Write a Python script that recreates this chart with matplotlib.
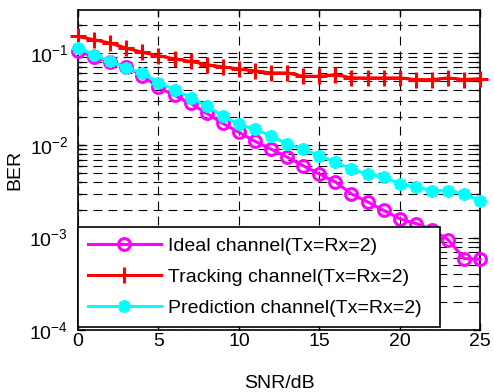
import math
import matplotlib
matplotlib.use("Agg")
import matplotlib.pyplot as plt
from matplotlib.ticker import FixedLocator, FuncFormatter, LogLocator, NullFormatter

plt.rcParams['font.family'] = ['Liberation Sans', 'DejaVu Sans']
plt.rcParams['mathtext.fontset'] = 'custom'
plt.rcParams['mathtext.rm'] = 'Liberation Sans'

snr = list(range(0, 26))
ideal = [0.105, 0.0906, 0.080, 0.0698, 0.0566, 0.0421, 0.0345, 0.0283, 0.0221, 0.0172,
         0.0138, 0.0110, 0.00906, 0.00743, 0.00599, 0.00488, 0.00400, 0.00297, 0.00244,
         0.00197, 0.00160, 0.00142, 0.00122, 0.00095, 0.000594, 0.000580]
tracking = [0.150, 0.138, 0.127, 0.112, 0.101, 0.093, 0.0856, 0.0806, 0.0743, 0.0702,
            0.0668, 0.0636, 0.0605, 0.0605, 0.0556, 0.0556, 0.058, 0.0534, 0.0534, 0.0534,
            0.0534, 0.0512, 0.0512, 0.0534, 0.0512, 0.0525]
prediction = [0.112, 0.0952, 0.0806, 0.0685, 0.0605, 0.0472, 0.040, 0.0326, 0.0265, 0.0207,
              0.0168, 0.01486, 0.01259, 0.01026, 0.00906, 0.00767, 0.00656, 0.00552, 0.00488,
              0.00453, 0.00381, 0.00353, 0.00323, 0.00323, 0.00297, 0.00252]
labels = ['Ideal channel(Tx=Rx=2)', 'Tracking channel(Tx=Rx=2)', 'Prediction channel(Tx=Rx=2)']
xticks = [0, 5, 10, 15, 20, 25]

fig = plt.figure(figsize=(4.94, 3.92), dpi=100)
ax = fig.add_axes([0.158, 0.158, 0.814, 0.8165])

ax.semilogy(snr, ideal, color='#FF00FF', lw=2.2, marker='o', ms=8.5, mfc='none', mew=2.2,
            label=labels[0], clip_on=False, zorder=5)
ax.semilogy(snr, tracking, color='#FF0000', lw=2.2, marker='+', ms=11, mew=2.2,
            label=labels[1], clip_on=False, zorder=5)
ax.semilogy(snr, prediction, color='#00FFFF', lw=2.2, marker=(8, 2, 0), ms=9, mew=2.5,
            label=labels[2], clip_on=False, zorder=5)

ax.set_xlim(0, 25)
ax.set_ylim(1e-4, 0.29)
ax.xaxis.set_major_locator(FixedLocator(xticks))
ax.yaxis.set_major_locator(LogLocator(base=10, numticks=10))
ax.yaxis.set_minor_locator(LogLocator(base=10, subs=range(2, 10), numticks=20))
ax.yaxis.set_minor_formatter(NullFormatter())
ax.yaxis.set_major_formatter(FuncFormatter(lambda v, p: r'$\mathregular{10^{%d}}$' % round(math.log10(v))))

dash = (0, (8, 5.5))
ax.grid(True, which='major', axis='both', color='black', linestyle=dash, linewidth=0.8)
ax.grid(True, which='minor', axis='y', color='black', linestyle=dash, linewidth=0.8)
ax.tick_params(which='both', direction='in', top=True, right=True, labelsize=14, width=1)
ax.tick_params(which='major', length=5)
ax.tick_params(which='minor', length=3)
ax.tick_params(axis='x', pad=2)
ax.tick_params(axis='y', pad=7)
for s in ax.spines.values():
    s.set_linewidth(1.2)
    s.set_zorder(4)

ax.set_xlabel('SNR/dB', fontsize=14, labelpad=18)
ax.set_ylabel('BER', fontsize=14, labelpad=4)

leg = ax.legend(loc='lower left', bbox_to_anchor=(0.0, 0.01, 0.9, 0.32), mode='expand',
                fontsize=14, frameon=True, fancybox=False, edgecolor='black', framealpha=1,
                borderaxespad=0, handlelength=3.75, handletextpad=0.4, labelspacing=0.7,
                borderpad=0.5)
leg.get_frame().set_linewidth(1.2)
leg.set_zorder(10)

fig.savefig('out.png', dpi=100)
